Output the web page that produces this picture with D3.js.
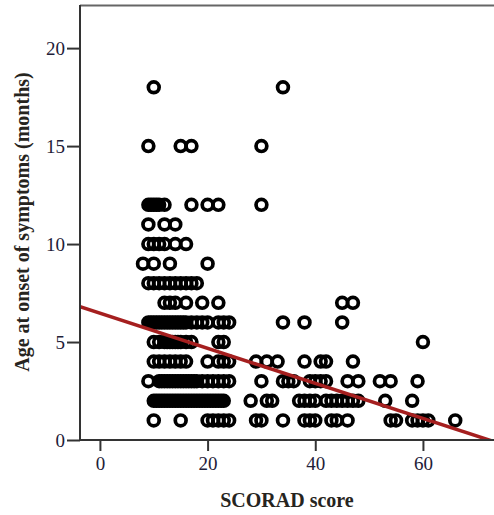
<!DOCTYPE html>
<html>
<head>
<meta charset="utf-8">
<script src="https://cdn.jsdelivr.net/npm/d3@7"></script>
<style>
  html, body { margin: 0; padding: 0; background: #fff; }
  svg { display: block; }
</style>
</head>
<body>
<svg id="chart" width="494" height="515"></svg>
<script>
// Age at onset (months) for each row of points, and the SCORAD scores recorded at that age
const onsetAges = [18, 15, 12, 11, 10, 9, 8, 7, 6, 5, 4, 3, 2, 1];
const scoradByAge = [
  [10, 34],
  [9, 15, 17, 30],
  [9, 9.5, 10, 10.5, 11, 12, 17, 20, 22, 30],
  [9, 12, 14],
  [9, 10, 11, 12, 14, 16],
  [8, 10, 13, 20],
  [9, 10, 11, 12, 13, 14, 15, 16, 17, 18],
  [12, 13, 14, 16, 19, 22, 45, 47],
  [9, 9.5, 10, 10.5, 11, 11.5, 12, 12.5, 13, 13.5, 14, 14.5, 15, 15.5, 16, 17, 18, 19, 20, 22, 23, 24, 34, 38, 45],
  [10, 11, 12, 12.5, 13, 13.5, 14, 14.5, 15, 16, 17, 22, 23, 60],
  [10, 11, 12, 13, 14, 15, 16, 20, 22, 23, 24, 29, 31, 33, 38, 41, 42, 47],
  [9, 11, 11.5, 12, 12.5, 13, 13.5, 14, 14.5, 15, 15.5, 16, 16.5, 17, 17.5, 18, 19, 20, 21, 22, 23, 24, 30, 34, 35, 36, 39, 40, 41, 42, 46, 48, 52, 54, 59],
  [10, 10.5, 11, 11.5, 12, 12.5, 13, 13.5, 14, 14.5, 15, 15.5, 16, 16.5, 17, 17.5, 18, 18.5, 19, 19.5, 20, 20.5, 21, 21.5, 22, 22.5, 23, 28, 31, 32, 37, 38, 39, 40, 42, 43, 44, 45, 46, 47, 48, 53, 58],
  [10, 15, 20, 21, 22, 23, 24, 29, 30, 34, 38, 39, 40, 43, 44, 46, 54, 55, 58, 59, 60, 61, 66]
];

// Linear fit line: age = intercept + slope * score
const fitIntercept = 6.47;
const fitSlope = -0.0895;

const xTicks = [0, 20, 40, 60];
const yTicks = [0, 5, 10, 15, 20];
const xTitle = "SCORAD score";
const yTitle = "Age at onset of symptoms (months)";

const points = [];
onsetAges.forEach((age, i) => scoradByAge[i].forEach(s => points.push({ score: s, age: age })));

const svg = d3.select("#chart");
const plotLeft = 80, plotRight = 494, plotTop = 5, plotBottom = 440;

const x = d3.scaleLinear().domain([-3.7, 73.2]).range([plotLeft, plotRight]);
const y = d3.scaleLinear().domain([0, 22.2]).range([plotBottom, plotTop]);

svg.append("defs").append("clipPath").attr("id", "plotClip")
  .append("rect").attr("x", plotLeft).attr("y", plotTop)
  .attr("width", plotRight - plotLeft).attr("height", plotBottom - plotTop);

// frame top edge
svg.append("line")
  .attr("x1", plotLeft).attr("x2", plotRight).attr("y1", plotTop + 0.5).attr("y2", plotTop + 0.5)
  .attr("stroke", "#666").attr("stroke-width", 2);

// points
svg.append("g")
  .selectAll("circle")
  .data(points)
  .join("circle")
  .attr("cx", d => x(d.score))
  .attr("cy", d => y(d.age))
  .attr("r", 5.4)
  .attr("fill", "none")
  .attr("stroke", "#000")
  .attr("stroke-width", 3.7);

// fit line
const fitX = x.domain();
svg.append("line")
  .attr("clip-path", "url(#plotClip)")
  .attr("x1", x(fitX[0])).attr("y1", y(fitIntercept + fitSlope * fitX[0]))
  .attr("x2", x(fitX[1])).attr("y2", y(fitIntercept + fitSlope * fitX[1]))
  .attr("stroke", "#a51f1f").attr("stroke-width", 3.5);

// axes
const xAxis = d3.axisBottom(x).tickValues(xTicks).tickSize(11).tickPadding(6).tickSizeOuter(0);
const yAxis = d3.axisLeft(y).tickValues(yTicks).tickSize(13).tickPadding(2).tickSizeOuter(0);

const gx = svg.append("g").attr("transform", `translate(0,${plotBottom})`).call(xAxis);
const gy = svg.append("g").attr("transform", `translate(${plotLeft},0)`).call(yAxis);

[gx, gy].forEach(g => {
  g.select(".domain").attr("stroke", "#333").attr("stroke-width", 2);
  g.selectAll(".tick line").attr("stroke", "#333").attr("stroke-width", 2);
  g.selectAll(".tick text")
    .attr("fill", "#1e2038")
    .style("font-family", "'Liberation Serif', 'Times New Roman', serif")
    .style("font-size", "19px");
});
gx.select(".domain").attr("d", `M${plotLeft},0H${plotRight}`);
gy.select(".domain").attr("d", `M0,${plotBottom}V${plotTop}`);

// axis titles
svg.append("text")
  .attr("x", 287).attr("y", 507)
  .attr("text-anchor", "middle")
  .attr("fill", "#262420")
  .style("font-family", "'Liberation Serif', 'Times New Roman', serif")
  .style("font-weight", "bold")
  .style("font-size", "20px")
  .text(xTitle);

svg.append("text")
  .attr("transform", "translate(29,222) rotate(-90)")
  .attr("text-anchor", "middle")
  .attr("fill", "#262420")
  .style("font-family", "'Liberation Serif', 'Times New Roman', serif")
  .style("font-weight", "bold")
  .style("font-size", "20px")
  .text(yTitle);
</script>
</body>
</html>
